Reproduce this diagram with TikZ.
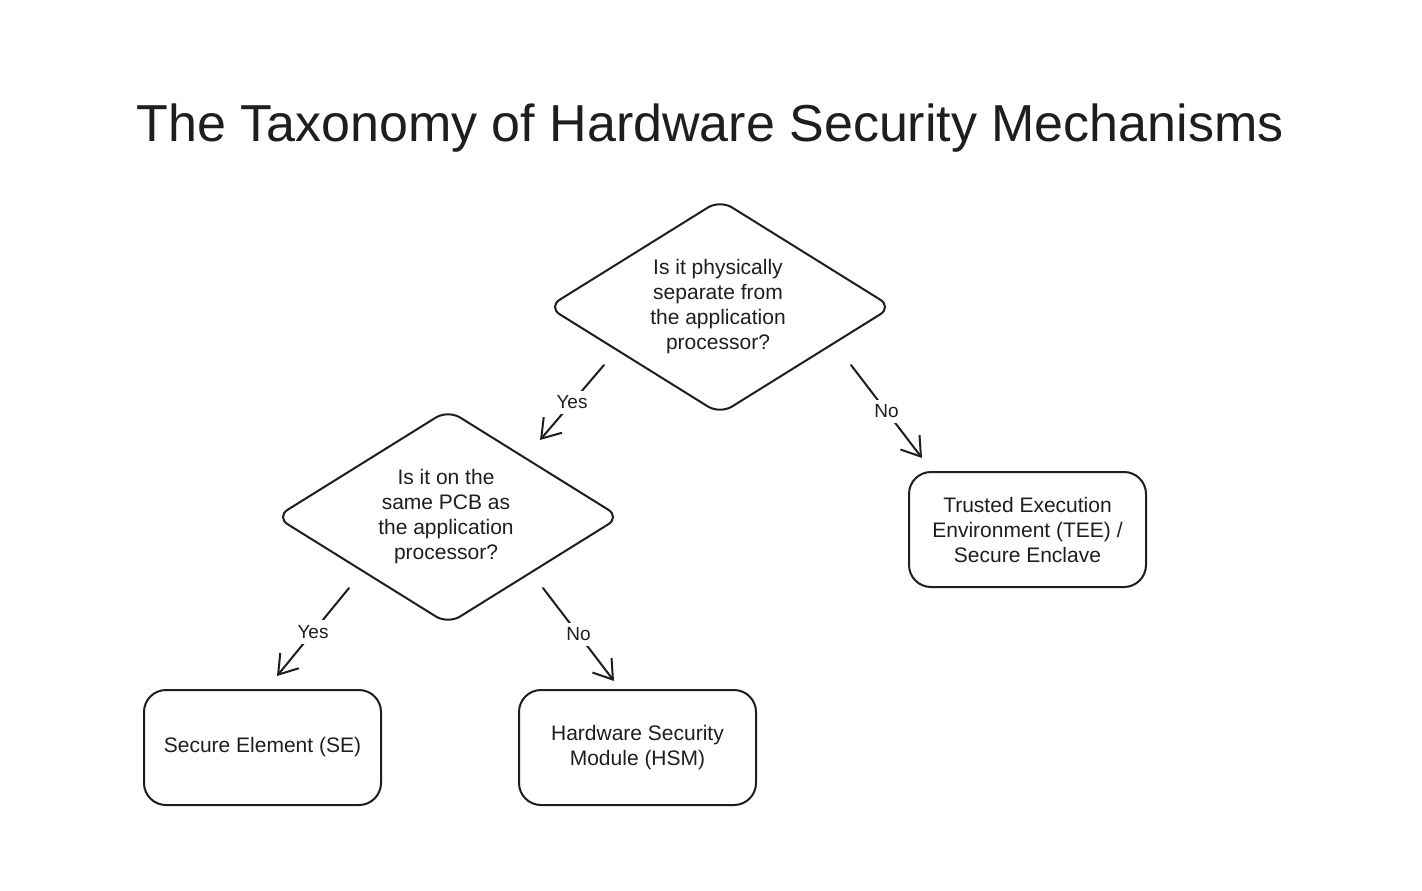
\documentclass[tikz,border=0pt]{standalone}
\usepackage{fontspec}
\setmainfont{Liberation Sans}
\usetikzlibrary{arrows.meta}
\definecolor{ink}{HTML}{1E1E1E}
\begin{document}
\begin{tikzpicture}[x=1pt,y=-1pt,
  every node/.style={text=ink},
  txt/.style={font=\fontsize{21}{25}\selectfont, align=center},
  decisionline/.style={draw=ink, line width=2pt, rounded corners=14pt},
  endbox/.style={rectangle, draw=ink, line width=2pt, rounded corners=22pt,
    minimum width=237pt, minimum height=115pt, inner sep=0pt, txt},
  arr/.style={draw=ink, line width=2pt, line cap=round,
    -{Straight Barb[length=18pt,width=24pt,line width=2pt]}},
  lbl/.style={fill=white, inner sep=5pt, font=\fontsize{19}{22}\selectfont}]
\useasboundingbox[fill=white] (0,0) rectangle (1422,891);

\node[anchor=base, font=\fontsize{52}{62}\selectfont] (title) at (710,141) {The Taxonomy of Hardware Security Mechanisms};

\draw[decisionline] (548,307) -- (720,200) -- (892,307) -- (720,414) -- cycle;
\node[txt] (d1) at (718,307) {Is it physically\\separate from\\the application\\processor?};
\draw[decisionline] (276,517) -- (448,410) -- (620,517) -- (448,624) -- cycle;
\node[txt] (d2) at (446,517) {Is it on the\\same PCB as\\the application\\processor?};

\node[endbox] (tee) at (1027.5,529.5) {Trusted Execution\\Environment (TEE) /\\Secure Enclave};
\node[endbox] (se) at (262.5,747.5) {Secure Element (SE)};
\node[endbox] (hsm) at (637.5,747.5) {Hardware Security\\Module (HSM)};

\coordinate (y1s) at (604,365);
\coordinate (y1e) at (540,440);
\coordinate (n1s) at (851,365);
\coordinate (n1e) at (922,458);
\coordinate (y2s) at (349,588);
\coordinate (y2e) at (277,676);
\coordinate (n2s) at (543,588);
\coordinate (n2e) at (614,681);

\draw[arr] (y1s) -- node[lbl] {Yes} (y1e);
\draw[arr] (n1s) -- node[lbl] {No} (n1e);
\draw[arr] (y2s) -- node[lbl] {Yes} (y2e);
\draw[arr] (n2s) -- node[lbl] {No} (n2e);
\end{tikzpicture}
\end{document}
